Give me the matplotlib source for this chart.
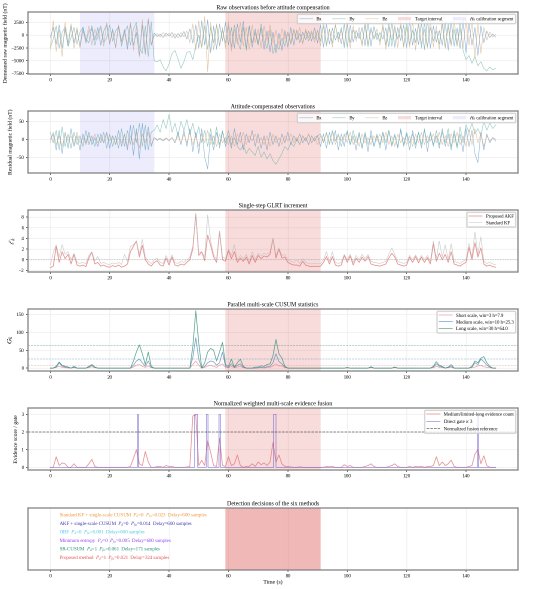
import io
import numpy as np
import matplotlib
matplotlib.use("Agg")
import matplotlib.pyplot as plt

plt.rcParams['font.family'] = ['Liberation Serif', 'DejaVu Serif']
plt.rcParams['mathtext.fontset'] = 'stix'

# time grid (s)
t = np.arange(0, 151)

# intervals
target_on, target_off = 59, 91
calib_on, calib_off = 10, 35

# panel 1 - raw demeaned field (nT)
raw_bx = [-500, 1500, -1800, 2000, -2500, 1200, -2200, 1800, -1500, 1000,
          -2200, 1600, -800, -1500, 1800, -1000, 1500, -2000, 800, 2000,
          -1800, 1200, -2500, 1800, -1200, 900, -2800, 2200, -2000, 500,
          -4000, 2000, -3800, 3000, -2000, 400, -300, 200, -500, 400,
          -200, 500, -600, 300, -400, 700, -800, 1200, -1600, 2000,
          -2600, 2800, -2000, 3000, -3500, 1800, -2800, 2200, -1200, 2500,
          -2000, 1500, -2600, 2200, -1400, 2700, -3000, 1800, -2400, 1200,
          -1800, 1400, -2800, 800, -3300, 600, -3500, 400, -3000, 900,
          -2400, 1500, -2000, 1000, -1500, 600, -900, 800, -1200, 1400,
          -1600, 2000, -2400, 2200, -1800, 1400, -1000, 600, -1700, 2200,
          -2400, 1900, -1400, 900, -700, 1500, -2100, 2500, -2200, 1700,
          -900, 500, -800, 1400, -2300, 2600, -2400, 1500, -1100, 2000,
          -2500, 2800, -2000, 1300, -1900, 2500, -2900, 3000, -2600, 1800,
          -1400, 900, -2000, 2500, -3000, 2700, -2200, 1400, -2600, 3000,
          -3500, 2400, -2000, 1500, -4000, 1800, -1500, 800, -500, 200,
          -400]
raw_by = [-2500, -800, 1800, -2600, 500, 1600, -2200, -500, 1500, -1800,
          600, 1400, -1600, 800, 1200, -2000, 300, 1800, -1400, -600,
          2000, -1200, 800, 1600, -2200, 400, 1800, -2000, 1200, 2500,
          -2400, -3600, 1800, -4200, 2600, -5000, -5200, -4800, -6200, -7000,
          -5600, -3600, -3000, -4600, -6500, -5200, -3400, -3200, -4800, -2000,
          0, -2400, 1800, -2800, 1500, -1500, 2000, -2200, 1000, -1600,
          1800, -2400, 2000, -1000, -2800, 1500, -2500, 1800, -1500, 500,
          -2000, 2200, -1200, -2600, 1000, -3600, -1800, -2800, -600, -2200,
          600, -1800, 1000, -1000, 300, -1500, 800, -1200, 500, -800,
          900, -1200, 1800, -2200, 1200, -1600, 1900, -800, 1500, -2500,
          2200, -1500, 1000, -600, 400, -1800, 2000, -2300, 1500, -800,
          400, -1200, 1600, -2000, 2400, -2200, 1400, -800, 1800, -2400,
          2600, -1800, 1000, -1500, 2200, -2600, 2500, -2300, 1500, -1200,
          800, -1800, 2200, -2600, 2200, -1800, 1100, -2200, 2600, -3000,
          -4800, -4000, -5500, -4200, -6000, -5200, -6500, -7000, -6200, -6800,
          -6500]
raw_bz = [-2800, 2800, -3200, 1000, -4200, 2500, -1500, 2200, -2600, 1500,
          -2500, 800, -1200, 1800, -2000, 1200, -800, 1500, -2200, 2500,
          -1500, 800, -2400, 2000, -1600, 1200, -2000, 2500, -3000, 1800,
          -4300, 3000, -3500, 3300, -2000, -200, 300, -400, 500, -300,
          400, -500, 300, -600, 500, -400, 800, -1500, 2200, -3000,
          2800, -2500, 3600, -7200, 2500, -3000, 2200, -2000, 1500, -2600,
          2700, -3200, 1200, -1800, 2500, -2200, 1600, -2800, 2000, -1500,
          1200, -2500, 1800, -1200, 2000, -1600, 1000, -2000, 1300, -800,
          600, -1400, 1200, -900, 1500, -1800, 1200, -600, 900, -1400,
          1000, -2200, 2600, -1800, 1200, -2400, 2200, -1400, 1000, -2000,
          2500, -2600, 1800, -1200, 1500, -2200, 2600, -1800, 1000, -600,
          1200, -2000, 2200, -2800, 1600, -1000, 1900, -2500, 2700, -2200,
          1600, -2400, 2800, -3000, 2400, -1800, 1200, -2600, 2900, -2400,
          1800, -2800, 3000, -2400, 1600, -2200, 2800, -2000, 1200, -2600,
          3200, -2000, 2800, -4500, 2200, -3600, 1500, -1000, 600, -400,
          200]

# panel 2 - attitude-compensated residual (nT)
res_bx = [0, 15, -30, 25, -40, 20, -25, 30, -20, 10,
          -30, 15, -10, 20, -15, 5, -20, 15, -10, 20,
          -25, 10, -15, 25, -20, 15, -30, 40, -45, 30,
          -55, 45, -30, 35, -20, 5, -3, 2, -5, 3,
          -4, 5, -10, 20, -15, 25, -20, 30, -35, 20,
          -40, 30, -50, -83, 15, -30, 20, -15, 25, -20,
          10, -25, 30, -15, 20, -30, 15, -10, 25, -20,
          15, -25, 10, -30, 20, -15, 10, -20, 15, -10,
          20, -15, 10, -5, 15, -10, 5, -15, 10, -5,
          10, -20, 15, -25, 20, -15, 25, -30, 15, -20,
          25, -15, 10, -30, 20, -25, 15, -35, 25, -20,
          10, -15, 20, -30, 25, -20, 15, -25, 30, -20,
          15, -30, 25, -15, 20, -25, 30, -35, 20, -15,
          10, -25, 30, -20, 15, -30, 25, -20, 15, -35,
          30, -20, 25, -40, -65, 20, -30, 15, -10, 5,
          -5]
res_by = [20, -10, 25, -30, 35, -20, 15, -25, 20, -15,
          10, -20, 25, -15, 10, -20, 15, -10, 20, -25,
          15, -20, 10, -25, 30, -20, 25, -15, 40, -10,
          45, -20, 40, -30, 20, 25, 40, 20, 55, 30,
          70, 20, 45, 10, 50, 25, 55, 15, 45, 5,
          35, -10, 25, -20, 30, -15, 35, -25, 20, -10,
          25, -15, 5, -20, -30, -15, -40, -25, -35, -45,
          -20, -50, -35, -55, -40, -60, -70, -55, -40, -20,
          -30, -10, -20, 0, -15, 10, -5, 15, -10, 5,
          10, 15, -10, 20, -15, 25, -5, 15, -20, 10,
          20, -15, 25, -10, 15, -25, 20, -15, 10, -20,
          15, -25, 20, -10, 25, -15, 10, -20, 25, -15,
          20, -10, 15, -25, 20, -15, 25, -10, 15, -20,
          25, -15, 20, -10, 30, -20, 15, -25, 35, -10,
          40, 20, 45, 15, 30, 10, 50, 25, 45, 30,
          40]
res_bz = [-10, 20, -15, 10, -20, 15, -5, 10, -15, 20,
          -10, 5, -15, 10, -5, 15, -10, 5, -10, 15,
          -5, 10, -15, 5, -10, 15, -20, 10, -15, 20,
          -25, 15, -10, 20, -15, 5, 0, 3, -2, 4,
          -3, 5, -8, 10, -12, 15, -10, 20, -15, 10,
          -20, 15, -10, 25, -15, 10, -20, 15, -10, 5,
          -15, 10, -20, 15, -10, 20, -15, 10, -5, 15,
          -10, 5, -15, 10, -20, 15, -10, 5, -15, 10,
          -5, 15, -10, 5, -15, 10, -5, 15, -10, 5,
          -15, 10, -5, 15, -10, 20, -15, 10, -5, 15,
          -10, 20, -15, 10, -20, 15, -10, 5, -15, 10,
          -5, 15, -10, 20, -15, 10, -20, 15, -10, 5,
          -15, 10, -20, 15, -10, 20, -15, 10, -5, 15,
          -10, 20, -15, 10, -20, 15, -10, 20, -15, 10,
          -20, 25, -15, 30, -10, 15, -20, 10, -5, 5,
          0]

# panel 3 - single-step GLRT increment
glrt_akf = [-1.5, -1.2, 2.5, -0.5, 1.5, 0.2, 1.0, -0.8, 1.0, -1.0,
            -1.2, -1.0, -1.3, 0.3, 1.4, -0.8, -0.5, -1.2, -1.0, -1.3,
            -1.4, -1.1, -1.3, -1.0, -1.4, -1.2, -0.8, 1.5, 2.5, 3.5,
            0.5, 2.7, 0.0, -0.8, -1.2, -0.5, -0.2, -1.0, -1.2, 0.3,
            -1.0, 0.5, -1.0, -1.2, -0.8, -1.0, -0.5, 0.0, 2.0, 8.6,
            0.8, 1.5, -0.2, 4.6, 2.7, 0.5, -0.5, 5.3, 0.0, -0.3,
            1.7, 0.2, 1.5, -0.5, 0.3, -0.3, 0.5, -0.8, 0.8, -0.5,
            0.8, 0.2, 0.7, 0.5, 1.0, 4.0, 0.3, 2.0, 0.3, 0.5,
            -0.5, -0.8, -1.0, -1.0, -1.2, -0.3, -1.0, -1.2, -1.3, -1.2,
            -1.3, -1.2, -0.5, 0.6, -0.8, 0.6, -1.0, -1.2, -1.0, 0.8,
            -0.5, 0.7, -1.0, 0.3, -0.5, 0.5, -0.3, 0.6, -0.8, -1.0,
            -1.1, -1.2, -1.0, -0.8, 0.3, 1.2, 0.5, -0.8, -1.0, -1.2,
            -1.0, 0.5, -0.5, 0.6, -0.6, 0.5, -0.5, 0.4, -0.8, 3.0,
            -0.3, 1.2, 0.0, 1.0, -0.5, 1.5, -0.8, -1.0, -1.2, -0.8,
            -0.5, 2.3, 0.0, 3.2, 0.5, 2.2, -0.8, -1.2, -1.0, -1.3,
            -1.4]
glrt_kf = [-1.0, 1.3, 2.8, 0.5, 2.8, 1.0, 1.5, 0.0, 1.2, -0.5,
           -0.7, -0.5, -0.8, 0.8, 1.5, -0.2, 0.6, -0.7, -0.5, -0.8,
           -0.9, -0.6, -0.8, -0.5, -0.9, 1.0, -0.3, 2.5, 2.8, 3.5,
           1.0, 3.8, 0.5, -0.3, -0.7, 0.0, 0.3, -0.5, -0.7, 0.8,
           -0.5, 0.9, -0.5, -0.7, -0.3, -0.5, 0.0, 0.5, 2.5, 8.6,
           1.3, 1.5, 0.5, 8.4, 3.5, 1.0, 0.0, 5.3, 0.5, 0.2,
           2.0, 0.8, 2.8, 0.0, 0.8, 0.2, 1.0, -0.3, 1.5, 0.0,
           1.2, 0.7, 1.2, 1.0, 1.5, 4.0, 0.8, 2.2, 0.8, 1.0,
           0.0, -0.3, -0.5, 0.0, -0.7, 0.2, -0.5, -0.7, -0.8, -0.7,
           -0.8, -0.7, 0.0, 1.5, -0.3, 1.5, -0.5, -0.7, -0.5, 1.0,
           0.0, 1.0, -0.5, 0.8, 0.0, 1.0, 0.2, 1.0, -0.3, -0.5,
           -0.6, -0.7, -0.5, -0.3, 1.0, 2.2, 1.0, -0.3, -0.5, -0.7,
           -0.5, 0.8, 0.0, 0.9, -0.1, 0.8, 0.0, 0.8, -0.3, 3.5,
           0.2, 3.5, 0.5, 2.8, 0.0, 3.0, -0.3, -0.5, -0.7, -0.3,
           0.0, 3.0, 0.5, 5.2, 1.0, 4.3, -0.3, -0.7, -0.5, -0.8,
           -0.9]

# panel 4 - multi-scale CUSUM
cusum_short = [0, 0, 2, 5, 2, 1, 0, 0, 1, 0,
               0, 0, 0, 1, 4, 1, 0, 0, 0, 0,
               0, 0, 0, 0, 0, 0, 0, 0, 3, 8,
               10, 5, 2, 6, 1, 0, 0, 0, 0, 0,
               0, 0, 0, 0, 0, 0, 0, 0, 10, 20,
               8, 0, 2, 6, 8, 5, 2, 8, 12, 2,
               1, 5, 1, 3, 5, 1, 0, 0, 0, 0,
               0, 1, 0, 2, 2, 6, 12, 6, 6, 1,
               0, 0, 0, 0, 0, 0, 0, 0, 0, 0,
               0, 0, 0, 0, 0, 0, 0, 0, 0, 0,
               0, 0, 0, 0, 0, 0, 0, 0, 1, 0,
               0, 0, 0, 0, 0, 0, 1, 0, 0, 0,
               0, 0, 0, 0, 0, 0, 0, 0, 0, 1,
               5, 2, 1, 0, 1, 2, 0, 0, 0, 0,
               0, 0, 1, 3, 6, 8, 4, 2, 1, 0,
               0]
cusum_medium = [0, 0, 3, 15, 5, 3, 2, 0, 3, 0,
                0, 0, 0, 3, 8, 2, 0, 0, 0, 0,
                0, 0, 0, 0, 0, 0, 0, 0, 8, 20,
                25, 15, 5, 20, 2, 0, 0, 0, 0, 0,
                0, 0, 0, 0, 0, 0, 0, 0, 30, 85,
                25, 0, 5, 15, 20, 18, 8, 15, 45, 5,
                2, 12, 2, 8, 12, 2, 0, 0, 0, 0,
                1, 2, 1, 4, 5, 15, 40, 18, 12, 3,
                0, 0, 0, 0, 0, 0, 0, 0, 0, 0,
                0, 0, 0, 0, 0, 0, 0, 0, 0, 0,
                1, 0, 0, 0, 0, 0, 0, 0, 2, 0,
                0, 0, 0, 0, 0, 0, 2, 0, 0, 0,
                0, 0, 0, 0, 0, 0, 0, 0, 0, 3,
                12, 5, 3, 0, 2, 5, 0, 0, 0, 0,
                0, 0, 3, 15, 10, 25, 18, 8, 3, 0,
                0]
cusum_long = [0, 0, 5, 17, 8, 5, 3, 0, 5, 0,
              0, 0, 0, 5, 10, 3, 0, 0, 0, 0,
              0, 0, 0, 0, 0, 0, 0, 0, 20, 45,
              65, 40, 10, 45, 5, 0, 0, 0, 0, 0,
              0, 0, 0, 0, 0, 0, 0, 0, 60, 160,
              70, 0, 15, 45, 55, 50, 20, 45, 72, 10,
              5, 25, 3, 15, 25, 5, 0, 0, 0, 3,
              3, 6, 5, 10, 12, 35, 80, 40, 28, 5,
              0, 0, 0, 0, 0, 0, 0, 0, 0, 0,
              0, 0, 0, 0, 0, 0, 0, 0, 0, 0,
              2, 0, 0, 0, 0, 0, 0, 0, 4, 0,
              0, 0, 0, 0, 0, 0, 3, 0, 0, 0,
              0, 0, 0, 0, 0, 0, 0, 0, 0, 5,
              18, 8, 5, 0, 3, 10, 0, 0, 0, 0,
              0, 0, 5, 20, 15, 28, 32, 15, 5, 0,
              0]
cusum_h = [7.9, 25.3, 64.0]
cusum_labels = ["Short scale, win=3 h=7.9", "Medium scale, win=10 h=25.3",
                "Long scale, win=30 h=64.0"]

# panel 5 - evidence fusion
evidence = [0, 0, 0.6, 0.1, 0.25, 0.2, 0, 0, 0.2, 0,
            0, 0, 0, 0.2, 0.45, 0.05, 0, 0, 0, 0,
            0, 0, 0, 0, 0, 0, 0, 0.05, 0.5, 1.0,
            0.2, 0.1, 0.9, 0.3, 0, 0, 0.05, 0.05, 0, 0.1,
            0.05, 0.05, 0, 0, 0, 0, 0.02, 0.05, 2.9, 2.95,
            0.1, 0.4, 0.1, 1.5, 0.85, 0.1, 0.05, 1.65, 0.1, 0.05,
            0.6, 0.1, 0.2, 0.7, 0.1, 0, 0.05, 0.05, 0.2, 0.05,
            0.3, 0.15, 0.25, 0.1, 0.3, 1.4, 0.3, 0.7, 0.2, 0.05,
            0.05, 0.02, 0, 0, 0.03, 0, 0, 0, 0, 0,
            0, 0, 0, 0.05, 0.03, 0.05, 0, 0, 0, 0.15,
            0.05, 0.1, 0, 0, 0, 0, 0.05, 0.1, 0.2, 0.05,
            0, 0, 0, 0, 0.05, 0.1, 0.2, 0.05, 0, 0,
            0, 0.05, 0, 0.05, 0.03, 0.05, 0, 0.05, 0.05, 0.1,
            0.6, 0.1, 0.3, 0.1, 0.2, 0.4, 0.05, 0, 0, 0,
            0, 0.05, 0.1, 0.75, 1.0, 0.2, 0.65, 0.1, 0, 0,
            0]
gate_on = [29.4, 48.6, 52.6, 56.8, 75.2, 143.9]
gate_off = [29.6, 49.6, 53.1, 57.3, 76.0, 144.1]
gate_level = 3
fusion_ref = 2

# panel 6 - decisions of the six methods
method_text = [
    "Standard KF + single-scale CUSUM  $P_d$=0  $P_{fa}$=0.023  Delay=600 samples",
    "AKF + single-scale CUSUM  $P_d$=0  $P_{fa}$=0.014  Delay=600 samples",
    "OBF  $P_d$=0  $P_{fa}$=0.001  Delay=600 samples",
    "Minimum entropy  $P_d$=0  $P_{fa}$=0.005  Delay=600 samples",
    "SR-CUSUM  $P_d$=1  $P_{fa}$=0.061  Delay=171 samples",
    "Proposed method  $P_d$=1  $P_{fa}$=0.021  Delay=324 samples",
]
method_colors = ['#f0902c', '#3a2fa8', '#40c4e4', '#8a3cf0', '#1a8a70', '#e04a4a']

c_bx, c_by, c_bz = '#4a8cc4', '#52a89c', '#d4a070'
TITLE_FS, TICK_FS, LAB_FS, LEG_FS = 4.3, 3.6, 4.1, 3.4

fig = plt.figure(figsize=(5.5, 5.89))
W, H = 550.0, 589.0
tops = [12, 111, 210, 309, 408, 508]
axes = []
for top in tops:
    ax = fig.add_axes([28 / W, 1 - (top + 62) / H, 490 / W, 62 / H])
    ax.set_xlim(-7.5, 157.5)
    ax.tick_params(labelsize=TICK_FS, length=1.5, width=0.4, pad=1.5)
    ax.grid(True, color='#e6e6e6', lw=0.35)
    ax.set_axisbelow(True)
    for s in ax.spines.values():
        s.set_color('#808080')
        s.set_linewidth(0.9)
    axes.append(ax)

red_span = dict(color='#d62728', alpha=0.16, lw=0)
blue_span = dict(color='#3030e0', alpha=0.09, lw=0)
leg_kw = dict(fontsize=LEG_FS, frameon=True, framealpha=0.8, edgecolor='#cccccc',
              handlelength=2.8)

# 1
ax = axes[0]
ax.axvspan(target_on, target_off, label='Target interval', **red_span)
ax.axvspan(calib_on, calib_off, label='$H_0$ calibration segment', **blue_span)
ax.plot(t, raw_bx, color=c_bx, lw=0.35, alpha=0.7, label='Bx')
ax.plot(t, raw_by, color=c_by, lw=0.35, alpha=0.7, label='By')
ax.plot(t, raw_bz, color=c_bz, lw=0.35, alpha=0.7, label='Bz')
ax.set_ylim(-7600, 4500)
ax.set_yticks([-7500, -5000, -2500, 0, 2500])
ax.set_title('Raw observations before attitude compensation', fontsize=TITLE_FS, pad=2)
ax.set_ylabel('Demeaned raw magnetic field (nT)', fontsize=LAB_FS, labelpad=2)
h, l = ax.get_legend_handles_labels()
order = [2, 3, 4, 0, 1]
ax.legend([h[i] for i in order], [l[i] for i in order], ncol=5, loc='upper right',
          columnspacing=2.2, borderpad=0.4, **leg_kw)

# 2
ax = axes[1]
ax.axvspan(target_on, target_off, label='Target interval', **red_span)
ax.axvspan(calib_on, calib_off, label='$H_0$ calibration segment', **blue_span)
ax.plot(t, res_bx, color=c_bx, lw=0.35, alpha=0.7, label='Bx')
ax.plot(t, res_by, color=c_by, lw=0.35, alpha=0.7, label='By')
ax.plot(t, res_bz, color=c_bz, lw=0.35, alpha=0.7, label='Bz')
ax.set_ylim(-94, 79)
ax.set_yticks([-50, 0, 50])
ax.set_title('Attitude-compensated observations', fontsize=TITLE_FS, pad=2)
ax.set_ylabel('Residual magnetic field (nT)', fontsize=LAB_FS, labelpad=2)
h, l = ax.get_legend_handles_labels()
ax.legend([h[i] for i in order], [l[i] for i in order], ncol=5, loc='upper right',
          columnspacing=2.2, borderpad=0.4, **leg_kw)

# 3
ax = axes[2]
ax.axvspan(target_on, target_off, **red_span)
ax.axhline(0, color='#999999', lw=0.45, ls=':')
ax.plot(t, glrt_akf, color='#d9534f', lw=0.55, alpha=0.65, label='Proposed AKF')
ax.plot(t, glrt_kf, color='#bbbbbb', lw=0.4, alpha=0.8, label='Standard KF')
ax.set_ylim(-2.3, 9.3)
ax.set_yticks([-2, 0, 2, 4, 6, 8])
ax.set_title('Single-step GLRT increment', fontsize=TITLE_FS, pad=2)
ax.set_ylabel(r'$\ell_k$', fontsize=LAB_FS + 1, labelpad=2)
ax.legend(loc='upper right', **leg_kw)

# 4
ax = axes[3]
ax.axvspan(target_on, target_off, **red_span)
cus_cols = ['#e88a8a', '#4f86b8', '#2f8a70']
for series, hval, col, lab in zip([cusum_short, cusum_medium, cusum_long],
                                  cusum_h, cus_cols, cusum_labels):
    ax.plot(t, series, color=col, lw=0.5, alpha=0.8, label=lab)
    ax.axhline(hval, color=col, lw=0.4, ls='--', alpha=0.6)
ax.set_ylim(-8, 165)
ax.set_yticks([0, 50, 100, 150])
ax.set_title('Parallel multi-scale CUSUM statistics', fontsize=TITLE_FS, pad=2)
ax.set_ylabel('$G_k$', fontsize=LAB_FS + 1, labelpad=2)
ax.legend(loc='upper right', **leg_kw)

# 5
ax = axes[4]
ax.axvspan(target_on, target_off, **red_span)
gx, gy = [0], [0]
for a, b in zip(gate_on, gate_off):
    gx += [a, a, b, b]
    gy += [0, gate_level, gate_level, 0]
gx.append(150)
gy.append(0)
ax.plot(t, evidence, color='#e06060', lw=0.55, alpha=0.7,
        label='Medium/limited-long evidence count')
ax.plot(gx, gy, color='#6a5acd', lw=0.5, alpha=0.7, label=r'Direct gate $\times$ 3')
ax.axhline(fusion_ref, color='#555555', lw=0.5, ls='--', label='Normalized fusion reference')
ax.set_ylim(-0.15, 3.35)
ax.set_yticks([0, 1, 2, 3])
ax.set_title('Normalized weighted multi-scale evidence fusion', fontsize=TITLE_FS, pad=2)
ax.set_ylabel('Evidence score / gate', fontsize=LAB_FS, labelpad=2)
ax.legend(loc='upper right', **leg_kw)

# 6
ax = axes[5]
ax.axvspan(target_on, target_off, color='#d62728', alpha=0.32, lw=0)
ax.set_ylim(0, 1)
ax.set_yticks([])
ax.grid(False, axis='y')
for i, (txt, col) in enumerate(zip(method_text, method_colors)):
    ax.text(3, 0.875 - i * 0.137, txt, color=col, fontsize=3.5,
            va='center', ha='left', transform=ax.get_xaxis_transform())
ax.set_title('Detection decisions of the six methods', fontsize=TITLE_FS, pad=2)
ax.set_xlabel('Time (s)', fontsize=LAB_FS, labelpad=1)

# render at 3x and average down, tiny fonts come out cleaner that way
buf = io.BytesIO()
fig.savefig(buf, format='png', dpi=300)
buf.seek(0)
big = plt.imread(buf)
hh, ww = big.shape[0] // 3 * 3, big.shape[1] // 3 * 3
small = big[:hh, :ww].reshape(hh // 3, 3, ww // 3, 3, -1).mean(axis=(1, 3))
plt.imsave('out.png', np.clip(small, 0, 1))
